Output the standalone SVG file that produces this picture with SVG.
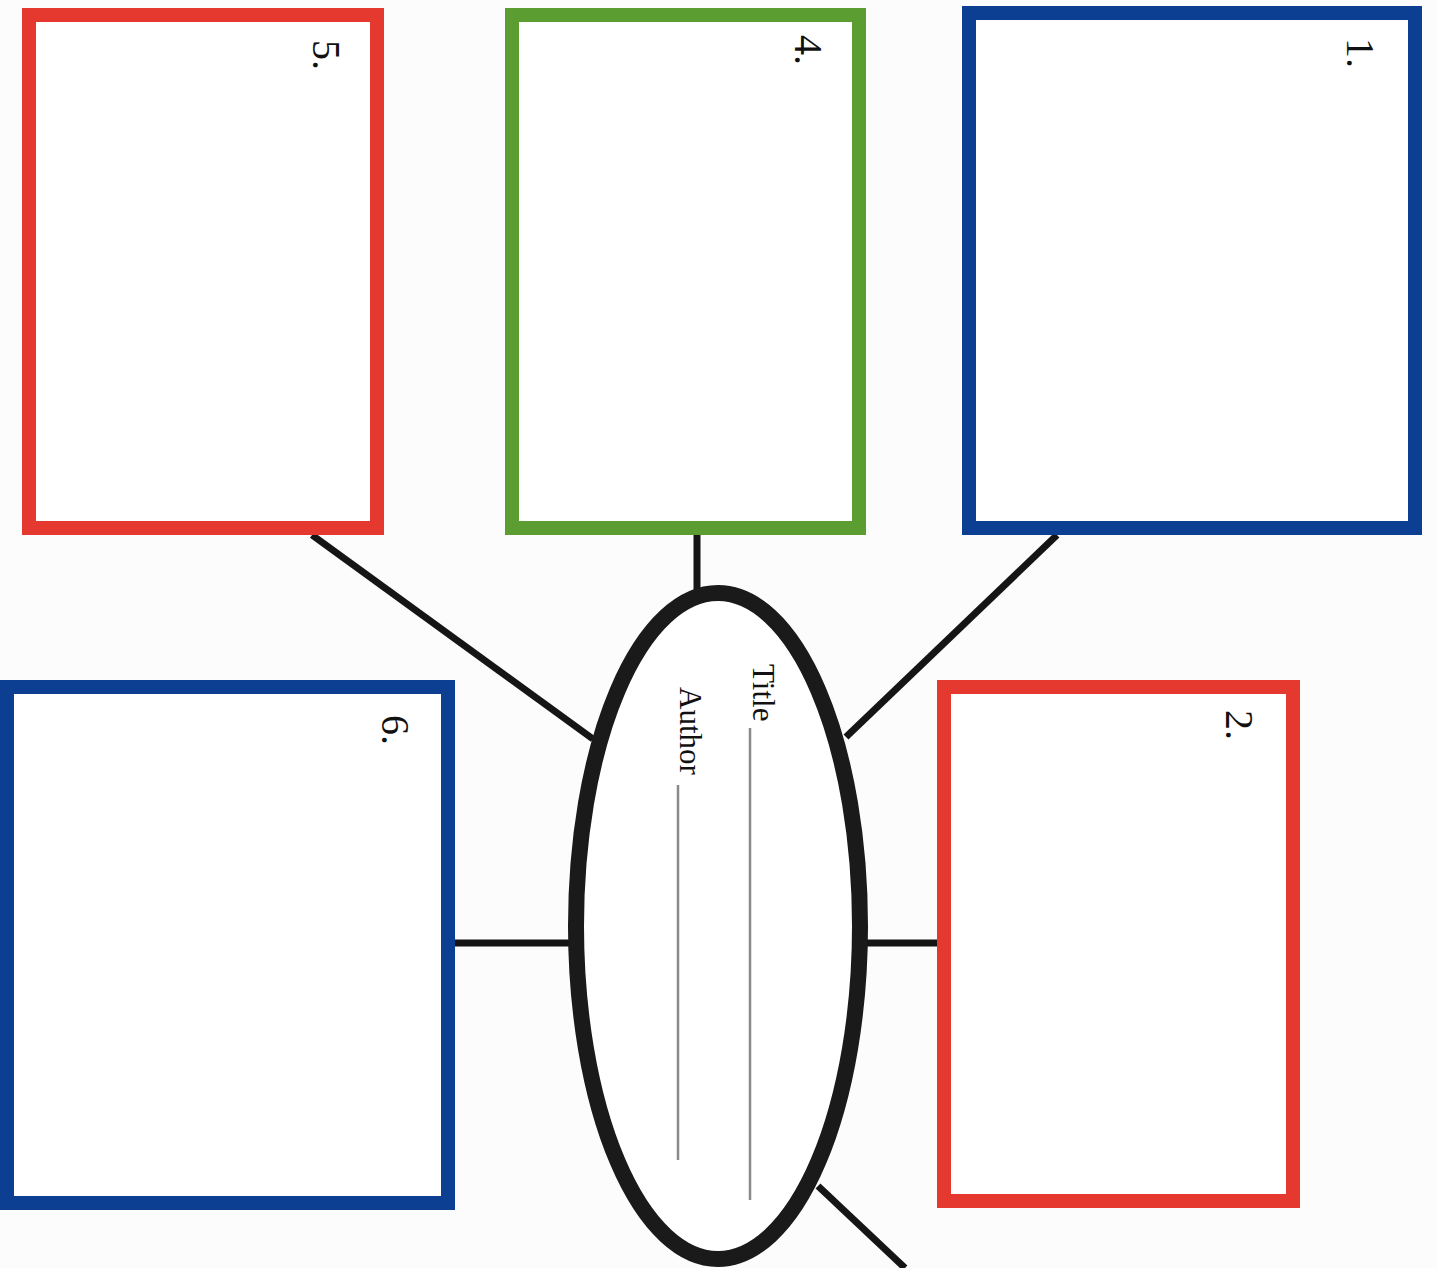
<svg xmlns="http://www.w3.org/2000/svg" width="1437" height="1268" viewBox="0 0 1437 1268">
<style>
.box{fill:#ffffff;stroke-width:14}
.blue{stroke:#0c3f92}
.red{stroke:#e5392f}
.green{stroke:#5b9d30}
.con{stroke:#151515;stroke-width:7;fill:none}
.num{font-family:"Liberation Serif",serif;font-size:40px;fill:#111}
.lbl{font-family:"Liberation Serif",serif;font-size:31px;fill:#111}
.rule{stroke:#8a8a8a;stroke-width:2.5}
</style>
<rect width="1437" height="1268" fill="#fcfcfc"/>
<g id="connectors">
<line class="con" x1="1057" y1="535" x2="846" y2="737"/>
<line class="con" x1="697" y1="535" x2="697" y2="592"/>
<line class="con" x1="312" y1="535" x2="593" y2="739"/>
<line class="con" x1="455" y1="943" x2="572" y2="943"/>
<line class="con" x1="866" y1="943" x2="938" y2="943"/>
<line class="con" x1="818" y1="1186" x2="905" y2="1268"/>
</g>
<g id="box1"><rect class="box blue" x="969" y="13" width="446" height="515"/><text class="num" transform="translate(1347,38) rotate(90)">1.</text></g>
<g id="box4"><rect class="box green" x="512" y="15" width="347" height="513"/><text class="num" transform="translate(795,35) rotate(90)">4.</text></g>
<g id="box5"><rect class="box red" x="29" y="15" width="348" height="513"/><text class="num" transform="translate(313,40) rotate(90)">5.</text></g>
<g id="box2"><rect class="box red" x="944" y="687" width="349" height="514"/><text class="num" transform="translate(1226,710) rotate(90)">2.</text></g>
<g id="box6"><rect class="box blue" x="7" y="687" width="441" height="516"/><text class="num" transform="translate(382,715) rotate(90)">6.</text></g>
<g id="center">
<ellipse cx="718" cy="926" rx="142" ry="333" fill="#ffffff" stroke="#1a1a1a" stroke-width="16"/>
<text class="lbl" transform="translate(753,664) rotate(90)">Title</text>
<line class="rule" x1="750" y1="728" x2="750" y2="1200"/>
<text class="lbl" transform="translate(680,687) rotate(90)">Author</text>
<line class="rule" x1="678" y1="785" x2="678" y2="1160"/>
</g>
</svg>
